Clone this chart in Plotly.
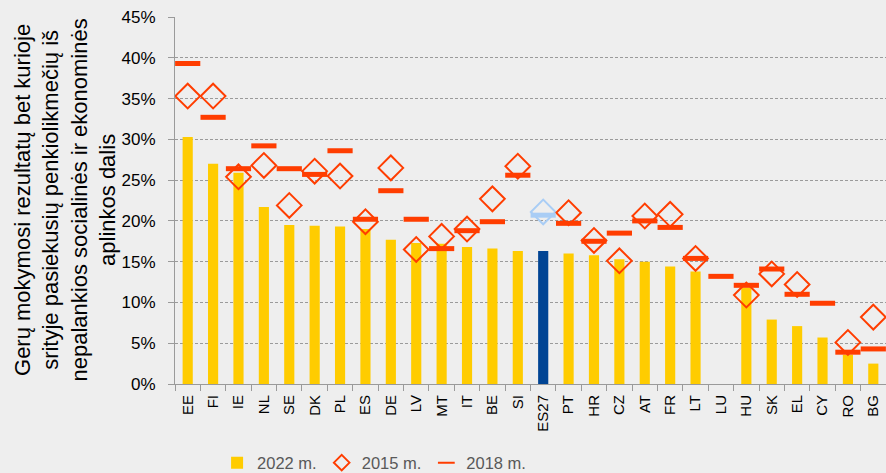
import plotly.graph_objects as go

countries = ["EE", "FI", "IE", "NL", "SE", "DK", "PL", "ES", "DE", "LV", "MT", "IT", "BE", "SI",
             "ES27", "PT", "HR", "CZ", "AT", "FR", "LT", "LU", "HU", "SK", "EL", "CY", "RO", "BG"]
v2022 = [30.3, 27.0, 25.9, 21.7, 19.5, 19.4, 19.3, 19.0, 17.7, 17.3, 17.2, 16.8, 16.6, 16.3,
         16.3, 16.0, 15.8, 15.3, 15.0, 14.4, 13.8, None, 11.8, 7.9, 7.1, 5.7, 3.6, 2.5]
v2015 = [35.3, 35.3, 25.4, 26.8, 21.9, 26.1, 25.5, 19.9, 26.5, 16.5, 18.1, 19.0, 22.7, 26.7,
         21.1, 21.0, 17.6, 15.1, 20.6, 20.8, 15.4, None, 10.9, 13.5, 12.2, None, 5.1, 8.2]
v2018 = [39.3, 32.7, 26.4, 29.2, 26.4, 25.7, 28.6, 20.2, 23.7, 20.2, 16.6, 18.8, 19.9, 25.6,
         20.7, 19.7, 17.5, 18.5, 20.0, 19.2, 15.4, 13.2, 12.1, 14.1, 11.0, 9.9, 3.9, 4.3]
ytick_vals = [0, 5, 10, 15, 20, 25, 30, 35, 40, 45]
ytick_text = [f"{v}%" for v in ytick_vals]
y_title = ("Gerų mokymosi rezultatų bet kurioje<br>srityje pasiekusių penkiolikmečių iš"
           "<br>nepalankios socialinės ir ekonominės<br>aplinkos dalis")

def pct(vals):
    return [None if v is None else v / 100 for v in vals]

bar_colors = ["#004494" if c == "ES27" else "#ffcc00" for c in countries]
mk_colors = ["#a9cdf5" if c == "ES27" else "#ff3d00" for c in countries]

font = "Liberation Sans"
fig = go.Figure()
fig.add_trace(go.Bar(x=countries, y=pct(v2022), name="2022 m.",
                     marker=dict(color=bar_colors, line=dict(width=0))))
fig.add_trace(go.Scatter(x=countries, y=pct(v2015), name="2015 m.", mode="markers",
                         marker=dict(symbol="diamond-open", size=19, color=mk_colors,
                                     line=dict(width=2, color=mk_colors))))
fig.add_trace(go.Scatter(x=countries, y=pct(v2018), name="2018 m.", mode="markers",
                         marker=dict(symbol="line-ew-open", size=18, color=mk_colors,
                                     line=dict(width=5, color=mk_colors))))

fig.add_annotation(text=y_title, xref="paper", yref="paper", x=-0.1547, y=0.5,
                   xanchor="center", yanchor="middle", textangle=-90, showarrow=False,
                   font=dict(size=22, color="#000000", family=font))

fig.update_layout(
    width=886, height=473,
    margin=dict(l=175, r=0, t=17, b=89, autoexpand=False),
    paper_bgcolor="#eeeeee", plot_bgcolor="#eeeeee",
    bargap=0.6,
    font=dict(family=font, color="#000000", size=15),
    showlegend=True,
    legend=dict(orientation="h", x=0.28, xanchor="center", y=-0.215, yanchor="middle",
                font=dict(size=16.5, color="#595959"), bgcolor="rgba(0,0,0,0)",
                itemsizing="constant", itemwidth=30, tracegroupgap=0),
    xaxis=dict(type="category", tickangle=-90, tickfont=dict(size=15), automargin=False,
               showline=True, linecolor="#9a9a9a", linewidth=1,
               ticks="outside", tickson="boundaries", ticklen=6, tickcolor="#9a9a9a",
               ticklabelstandoff=4,
               showgrid=False, range=[-0.5, 27.5]),
    yaxis=dict(range=[0, 0.45], tickvals=[v / 100 for v in ytick_vals], ticktext=ytick_text,
               tickfont=dict(size=17), showline=True, linecolor="#9a9a9a", linewidth=1,
               ticks="outside", ticklen=6, tickcolor="#9a9a9a", automargin=False,
               ticklabelstandoff=9,
               showgrid=True, gridcolor="#9a9a9a", griddash="3px,2px", gridwidth=1,
               zeroline=False),
)
fig.write_html("out.html", config={"displayModeBar": False},
               post_script="document.body.style.margin='0';document.body.style.overflow='hidden';")
